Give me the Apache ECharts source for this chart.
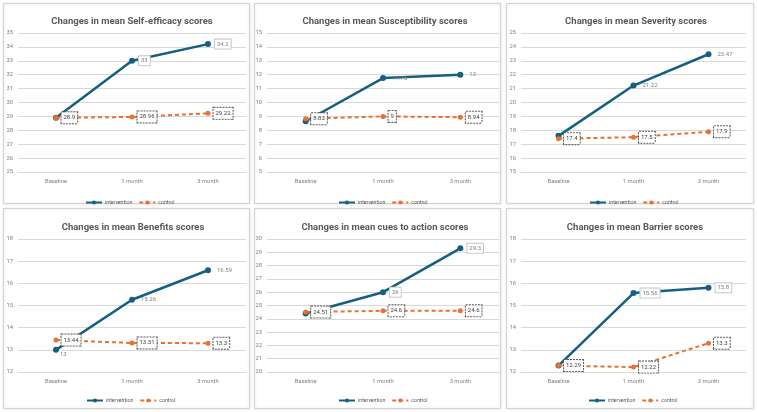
<!DOCTYPE html>
<html>
<head>
<meta charset="utf-8">
<script src="https://cdn.jsdelivr.net/npm/echarts@6/dist/echarts.min.js"></script>
<style>
  html, body { margin: 0; padding: 0; background: #fff; }
  #main { width: 757px; height: 412px; }
</style>
</head>
<body>
<div id="main"></div>
<script>
// categories shared by every panel
const categories = ['Baseline', '1 month', '3 month'];
const seriesNames = ['intervention', 'control'];

const titles = [
  'Changes in mean Self-efficacy scores',
  'Changes in mean Susceptibility scores',
  'Changes in mean Severity scores',
  'Changes in mean Benefits scores',
  'Changes in mean cues to action scores',
  'Changes in mean Barrier scores'
];

// values
const selfEfficacyIntervention = [28.9, 33, 34.2];
const selfEfficacyControl = [28.9, 28.96, 29.22];
const susceptibilityIntervention = [8.65, 11.76, 12];
const susceptibilityControl = [8.83, 9, 8.94];
const severityIntervention = [17.6, 21.22, 23.47];
const severityControl = [17.4, 17.5, 17.9];
const benefitsIntervention = [13, 15.26, 16.59];
const benefitsControl = [13.44, 13.31, 13.3];
const cuesIntervention = [24.4, 26, 29.3];
const cuesControl = [24.51, 24.6, 24.6];
const barrierIntervention = [12.29, 15.56, 15.8];
const barrierControl = [12.29, 12.22, 13.3];

// y axis ranges (min, max, step)
const yMin = [25, 5, 15, 12, 20, 12];
const yMax = [35, 15, 25, 18, 30, 18];
const yStep = [1, 1, 1, 1, 1, 1];

const interventionData = [selfEfficacyIntervention, susceptibilityIntervention, severityIntervention,
  benefitsIntervention, cuesIntervention, barrierIntervention];
const controlData = [selfEfficacyControl, susceptibilityControl, severityControl,
  benefitsControl, cuesControl, barrierControl];

// which intervention labels get a solid box
const boxedIntervention = [true, false, false, false, true, true];

// layout of the six panels
const gridLeft = [18, 267, 521, 18, 267, 521];
const gridWidth = [228, 232, 225, 228, 232, 225];
const gridTop = [33, 33, 33, 239, 239, 239];
const gridHeight = [139, 139, 139, 133, 133, 133];
const titleX = [127, 380, 631, 128, 380, 630];
const titleY = [12, 12, 12, 218, 218, 218];
const legendY = [195, 195, 195, 393, 393, 393];

const BLUE = '#156082';
const ORANGE = '#E97132';
const FONT = 'Roboto, "Noto Sans", sans-serif';

let option = {
  animation: false,
  backgroundColor: '#fff',
  textStyle: { fontFamily: FONT },
  graphic: [],
  title: [],
  legend: [],
  grid: [],
  xAxis: [],
  yAxis: [],
  series: []
};

const boxX = [3, 254, 506, 3, 254, 506];
const boxW = [246, 246, 247, 246, 246, 247];
const boxY = [3, 3, 3, 208, 208, 208];
const boxH = [200, 200, 200, 200, 200, 200];

for (let i = 0; i < 6; i++) {
  option.graphic.push({
    type: 'rect',
    silent: true,
    z: -10,
    shape: { x: boxX[i] + 0.5, y: boxY[i] + 0.5, width: boxW[i], height: boxH[i] },
    style: { fill: '#fff', stroke: '#d4d4d4', lineWidth: 1, shadowColor: 'rgba(0,0,0,0.12)', shadowBlur: 3 }
  });

  option.title.push({
    text: titles[i],
    left: titleX[i],
    top: titleY[i],
    textAlign: 'center',
    textStyle: { fontSize: 9.5, fontWeight: 'bold', color: '#595959', fontFamily: FONT }
  });

  option.legend.push({
    data: seriesNames,
    left: titleX[i] - 47,
    top: legendY[i],
    itemWidth: 16,
    itemHeight: 5,
    itemGap: 6,
    textStyle: { fontSize: 5.2, color: '#595959', padding: [0, 0, 0, -2] }
  });

  option.grid.push({ left: gridLeft[i], top: gridTop[i], width: gridWidth[i], height: gridHeight[i] });

  option.xAxis.push({
    type: 'category',
    gridIndex: i,
    data: categories,
    axisLine: { show: true, lineStyle: { color: '#d9d9d9' } },
    axisTick: { show: false },
    axisLabel: { fontSize: 5.8, color: '#7f7f7f', margin: 7 }
  });

  option.yAxis.push({
    type: 'value',
    gridIndex: i,
    min: yMin[i],
    max: yMax[i],
    interval: yStep[i],
    axisLine: { show: false },
    axisTick: { show: false },
    axisLabel: { fontSize: 5.8, color: '#7f7f7f', margin: 5 },
    splitLine: { lineStyle: { color: '#d9d9d9', width: 1 } }
  });

  const intLabel = {
    show: true,
    position: 'right',
    distance: 4,
    fontSize: 6,
    color: '#7f7f7f',
    padding: [2, 2, 1, 2]
  };
  if (boxedIntervention[i]) {
    intLabel.borderColor = '#c8c8c8';
    intLabel.borderWidth = 1;
    intLabel.backgroundColor = '#fff';
  }

  const intItems = interventionData[i].map((v, k) => {
    if (k === 0) {
      // only Benefits shows the intervention baseline label (below the point)
      if (i === 3) return { value: v, label: { show: true, position: [5, 3], borderWidth: 0 } };
      return { value: v, label: { show: false } };
    }
    return v;
  });

  option.series.push({
    name: seriesNames[0],
    type: 'line',
    xAxisIndex: i,
    yAxisIndex: i,
    data: intItems,
    symbol: 'circle',
    symbolSize: 6,
    color: BLUE,
    lineStyle: { width: 2.5, color: BLUE },
    label: intLabel,
    z: 3
  });

  option.series.push({
    name: seriesNames[1],
    type: 'line',
    xAxisIndex: i,
    yAxisIndex: i,
    data: controlData[i],
    symbol: 'circle',
    symbolSize: 5,
    color: ORANGE,
    lineStyle: { width: 2, color: ORANGE, type: [4, 3] },
    label: {
      show: true,
      position: 'right',
      distance: 3,
      fontSize: 6,
      color: '#404040',
      backgroundColor: '#fff',
      borderColor: '#595959',
      borderWidth: 1,
      borderType: [2, 1],
      padding: [3, 2, 2, 2]
    },
    z: 4
  });
}

const chart = echarts.init(document.getElementById('main'), null, { renderer: 'canvas' });
chart.setOption(option);
</script>
</body>
</html>
